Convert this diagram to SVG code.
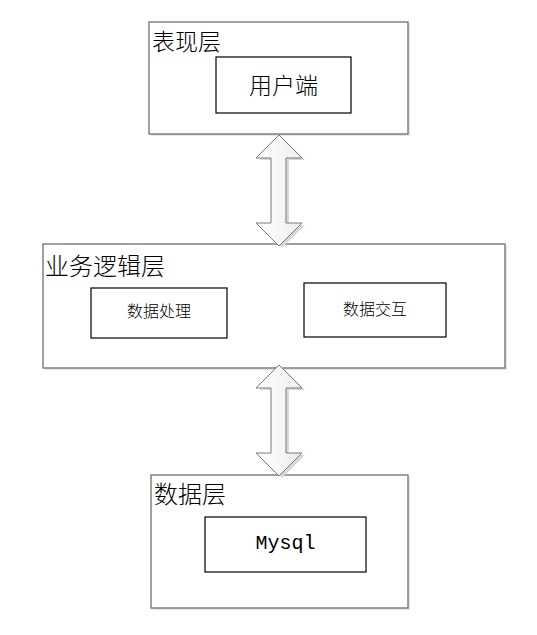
<svg xmlns="http://www.w3.org/2000/svg" width="537" height="635" viewBox="0 0 537 635">
<style>
.layer{fill:#fff;stroke:#6e6e6e;stroke-width:1.3}
.shadow{fill:#e6e6e6}
.box{fill:#fff;stroke:#000;stroke-width:1.2}
.title{font-family:"Noto Sans CJK SC",sans-serif;font-size:23px;fill:#000;font-weight:300}
.lbl{font-family:"Noto Sans CJK SC",sans-serif;font-size:16px;fill:#000;text-anchor:middle;font-weight:300}
.arrow{fill:url(#g);stroke:#7a7a7a;stroke-width:1}
.ashadow{fill:#d8d8d8}
</style>
<defs>
<linearGradient id="g" x1="0" y1="0" x2="1" y2="0">
<stop offset="0" stop-color="#ffffff"/>
<stop offset="1" stop-color="#ededed"/>
</linearGradient>
</defs>
<g id="layer-presentation">
<rect class="shadow" x="151" y="24" width="259" height="112"/>
<rect class="layer" x="149" y="22" width="259" height="112"/>
<text class="title" x="152" y="50">表现层</text>
</g>
<g id="node-client">
<rect class="box" x="216" y="57" width="135" height="56"/>
<text class="lbl" x="283.5" y="94" style="font-size:23px">用户端</text>
</g>
<g id="layer-business">
<rect class="shadow" x="45" y="246" width="462" height="124"/>
<rect class="layer" x="43" y="244" width="462" height="124"/>
<text class="title" x="45" y="275" style="font-size:24px">业务逻辑层</text>
</g>
<g id="node-process">
<rect class="box" x="91" y="288" width="136" height="50"/>
<text class="lbl" x="159" y="317">数据处理</text>
</g>
<g id="node-exchange">
<rect class="box" x="304" y="283" width="142" height="54"/>
<text class="lbl" x="375" y="315">数据交互</text>
</g>
<g id="layer-data">
<rect class="shadow" x="153" y="477" width="257" height="133"/>
<rect class="layer" x="151" y="475" width="257" height="133"/>
<text class="title" x="154" y="503" style="font-size:24px">数据层</text>
</g>
<g id="node-mysql">
<rect class="box" x="205" y="517" width="161" height="55"/>
<text x="285.5" y="549" style="font-family:'Liberation Mono',monospace;font-size:20px;text-anchor:middle;fill:#000">Mysql</text>
</g>
<g id="connectors">
<path class="ashadow" d="M282,137 L305,160 L289,160 L289,225 L305,225 L282,248 L259,225 L274,225 L274,160 L259,160 Z"/>
<path class="arrow" d="M279,135 L302,158 L286,158 L286,223 L302,223 L279,246 L256,223 L271,223 L271,158 L256,158 Z"/>
<path class="ashadow" d="M282,367 L305,390 L289,390 L289,455 L305,455 L282,478 L259,455 L274,455 L274,390 L259,390 Z"/>
<path class="arrow" d="M279,365 L302,388 L286,388 L286,453 L302,453 L279,476 L256,453 L271,453 L271,388 L256,388 Z"/>
</g>
</svg>
